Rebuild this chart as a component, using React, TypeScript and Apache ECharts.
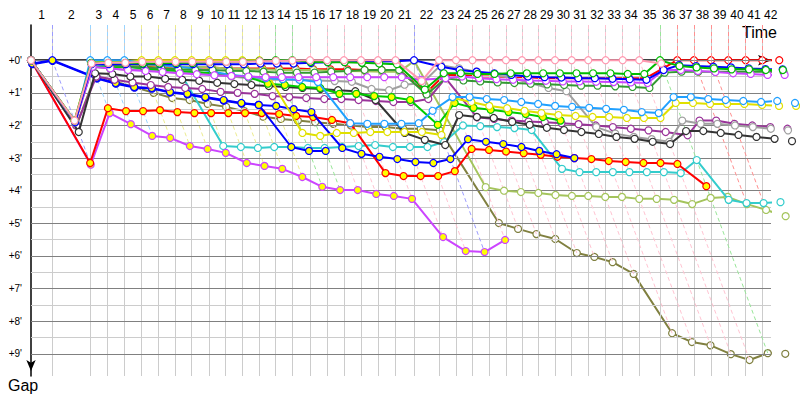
import React, { useEffect, useRef } from "react";
import * as echarts from "echarts";

// Leader's elapsed time (minutes) at the end of each lap; index 0 = start
const lapTimes = [
  0, 1.78, 4.94, 6.36, 7.78, 9.22, 10.61, 12.0, 13.39, 14.83, 16.22, 17.61, 19.03, 20.39, 21.78,
  23.25, 24.67, 26.08, 27.5, 28.92, 30.38, 31.92, 34.0, 35.42, 36.79, 38.21, 39.58, 40.92, 42.28,
  43.67, 45.06, 46.44, 47.89, 49.31, 50.69, 52.42, 53.86, 55.25, 56.67, 58.11, 59.56, 60.94, 62.36,
];
const lapLabels = [
  "1", "2", "3", "4", "5", "6", "7", "8", "9", "10", "11", "12", "13", "14", "15", "16", "17", "18", "19", "20", "21",
  "22", "23", "24", "25", "26", "27", "28", "29", "30", "31", "32", "33", "34", "35", "36", "37", "38", "39", "40", "41", "42",
];
const gapTicks = [0, 1, 2, 3, 4, 5, 6, 7, 8, 9];

// Gap to the leader (minutes) at the end of each lap, per rider
const gapsBlueLead = [0.1, 0, 0.54, 0.7, 0.82, 0.85, 0.97, 1.03, 1.13, 1.22, 1.31, 1.37, 2.66, 2.78, 2.78];
const gapsBlueB = [0.12, 0.02, 0.56, 0.72, 0.84, 0.87, 0.99, 1.05, 1.15, 1.24, 1.33, 1.37, 1.4, 1.5, 1.59, 2.69, 2.87, 2.96, 3.03, 3.12, 3.15, 3.03, 2.42, 2.5, 2.57, 2.66, 2.78, 2.88, 3.0];
const gapsLightBlue = [0, 1.9, 0, 0, 0, 0.08, 0.15, 0.2, 0.25, 0.35, 0.45, 0.5, 0.55, 0.58, 0.6, 0.67, 1.93, 1.95, 1.95, 1.95, 1.93, 1.55, 1.13, 1.13, 1.19, 1.22, 1.28, 1.34, 1.4, 1.43, 1.46, 1.49, 1.52, 1.59, 1.62, 1.13, 1.13, 1.19, 1.22, 1.25, 1.28, 1.25, 1.31];
const gapsYellow = [0, 1.85, 0.05, 0.03, 0.02, 0, 0, 0, 0, 0, 0, 0, 0, 2.23, 2.32, 2.23, 2.23, 2.2, 2.2, 2.2, 2.2, 2.29, 1.16, 1.28, 1.4, 1.47, 1.55, 1.62, 1.68, 1.71, 1.74, 1.74, 1.77, 1.77, 1.77, 1.31, 1.31, 1.34, 1.34, 1.34, 1.37, 1.4, 1.4];
const gapsPink = [0, 1.85, 0.1, 0.08, 0.08, 0.05, 0.05, 0.05, 0.05, 0.05, 0.05, 0.05, 0.03, 0.02, 0.01, 0, 0, 0, 0, 0, 0, 0.64, 0, 0, 0, 0, 0, 0, 0, 0, 0, 0, 0, 0, 0, 0.1];
const gapsRed = [0, 1.9, 0.15, 0.15, 0.15, 0.18, 0.2, 0.2, 0.22, 0.22, 0.25, 0.25, 0.25, 0.25, 0.25, 0.28, 0.28, 0.28, 0.3, 0.3, 0.3, 1.0, 0.45, 0.45, 0.5, 0.5, 0.52, 0.52, 0.55, 0.55, 0.55, 0.55, 0.55, 0.55, 0.55, 0.25, 0, 0, 0, 0, 0, 0, 0];
const gapsGreen = [0, 1.85, 0.08, 0.08, 0.08, 0.1, 0.1, 0.08, 0.08, 0.06, 0.05, 0.04, 0.02, 0, 0, 0.05, 0.06, 0.06, 0.08, 0.1, 0.12, 0.9, 0.4, 0.4, 0.42, 0.42, 0.4, 0.4, 0.4, 0.4, 0.4, 0.4, 0.4, 0.42, 0.42, 0, 0.18, 0.22, 0.25, 0.28, 0.28, 0.3, 0.3];
const gapsBlue = [0, 1.9, 0.12, 0.12, 0.12, 0.12, 0.12, 0.12, 0.12, 0.12, 0.12, 0.12, 0.1, 0.1, 0.1, 0.08, 0.06, 0.05, 0.05, 0.04, 0.03, 0, 0.2, 0.3, 0.35, 0.4, 0.45, 0.5, 0.52, 0.53, 0.55, 0.55, 0.57, 0.58, 0.6, 0.3, 0.15, 0.18, 0.2, 0.22, 0.25, 0.27, 0.28];
const gapsViolet = [0, 1.9, 0.2, 0.25, 0.3, 0.33, 0.36, 0.4, 0.43, 0.46, 0.48, 0.5, 0.52, 0.52, 0.52, 0.52, 0.52, 0.52, 0.52, 0.52, 0.52, 0.6, 0.55, 0.5, 0.55, 0.58, 0.6, 0.62, 0.63, 0.65, 0.65, 0.66, 0.67, 0.68, 0.7, 0.3, 0.3, 0.33, 0.36, 0.4, 0.42, 0.45, 0.45];
const gapsDarkGreen = [0, 1.9, 0.1, 0.15, 0.2, 0.22, 0.25, 0.28, 0.3, 0.3, 0.32, 0.33, 0.35, 0.38, 0.38, 0.38, 0.35, 0.33, 0.3, 0.3, 0.3, 1.05, 0.55, 0.62, 0.65, 0.68, 0.7, 0.72, 0.74, 0.76, 0.78, 0.78, 0.8, 0.82, 0.85, 0.38, 0.35, 0.35, 0.35, 0.35, 0.35, 0.35, 0.35];
const gapsBlack = [0, 2.2, 0.4, 0.42, 0.5, 0.5, 0.57, 0.6, 0.63, 0.69, 0.73, 0.76, 0.79, 0.82, 0.85, 0.88, 0.92, 0.95, 1.22, 2.23, 2.44, 2.6, 1.68, 1.74, 1.77, 1.89, 1.98, 2.07, 2.14, 2.2, 2.26, 2.35, 2.41, 2.5, 2.57, 2.17, 2.17, 2.23, 2.29, 2.35, 2.41, 2.48];
const gapsGray = [0, 1.9, 0.2, 0.25, 0.3, 0.3, 0.35, 0.38, 0.4, 0.45, 0.5, 0.55, 0.6, 0.6, 0.6, 0.62, 0.64, 0.66, 0.88, 0.92, 0.75, 0.7, 0.15, 0.25, 0.35, 0.45, 0.55, 0.7, 0.85, 0.95, 2.05, 2.25, 2.35, 2.42, 2.5, 1.85, 1.95, 1.95, 2.0, 2.05, 2.1, 2.15, 2.2];
const gapsPurple = [0, 2.0, 0.5, 0.6, 0.68, 0.76, 0.82, 0.85, 0.88, 0.97, 1.0, 1.03, 1.1, 1.13, 1.16, 1.19, 1.19, 1.22, 1.25, 1.28, 1.28, 1.19, 0.55, 1.75, 1.8, 1.85, 1.88, 1.9, 1.93, 1.96, 2.0, 2.05, 2.1, 2.15, 2.2, 2.3, 1.85, 1.85, 1.95, 2.0, 2.05, 2.1, 2.15];
const gapsGreenY = [0, 1.85, 0.2, 0.22, 0.2, 0.25, 0.3, 0.33, 0.36, 0.4, 0.46, 0.52, 0.72, 0.76, 0.82, 0.85, 1.03, 1.03, 1.1, 1.13, 1.22, 1.98, 1.31, 1.46, 1.52, 1.59, 1.65, 1.74, 1.85];
const gapsCyan = [0, 1.9, 0.1, 0.2, 0.2, 0.25, 0.28, 0.3, 2.63, 2.66, 2.69, 2.66, 2.66, 2.69, 2.69, 2.66, 2.63, 2.6, 2.66, 2.66, 2.66, 2.51, 2.0, 2.02, 2.05, 2.08, 2.14, 3.33, 3.43, 3.43, 3.43, 3.43, 3.43, 3.43, 3.46, 3.06, 4.28, 4.38, 4.38, 4.35];
const gapsRedY = [0, 3.15, 1.47, 1.56, 1.56, 1.53, 1.59, 1.62, 1.62, 1.62, 1.62, 1.62, 1.65, 1.71, 1.74, 1.83, 1.93, 3.46, 3.55, 3.55, 3.55, 3.4, 2.72, 2.75, 2.8, 2.85, 2.9, 2.96, 3.0, 3.03, 3.09, 3.12, 3.15, 3.15, 3.18, 3.86];
const gapsVioletY = [0, 3.2, 1.62, 1.96, 2.32, 2.38, 2.63, 2.72, 2.84, 3.15, 3.24, 3.33, 3.58, 3.88, 3.98, 3.98, 4.1, 4.16, 4.25, 5.42, 5.85, 5.88, 5.51];
const gapsOlive = [0, 2.0, 0.45, 0.66, 0.82, 1.0, 1.16, 1.22, 1.34, 1.43, 1.56, 1.73, 1.8, 1.85, 1.9, 1.95, 2.0, 2.05, 2.05, 2.1, 2.1, 2.15, 4.99, 5.17, 5.33, 5.48, 5.91, 6.03, 6.19, 6.55, 8.37, 8.64, 8.74, 9.01, 9.19, 8.98, 9.0];
const gapsYellowGreen = [0, 1.9, 0.15, 0.15, 0.15, 0.15, 0.18, 0.2, 0.2, 0.22, 0.25, 0.27, 0.28, 0.3, 0.3, 0.3, 0.32, 0.33, 0.34, 0.35, 0.35, 0.02, 3.89, 4.0, 4.04, 4.07, 4.13, 4.16, 4.16, 4.19, 4.19, 4.25, 4.25, 4.28, 4.41, 4.22, 4.19, 4.41, 4.59, 4.78];

// drawing order: first = bottom
const riders = [
  { name: "red", gaps: gapsRed },
  { name: "olive", gaps: gapsOlive },
  { name: "yellowGreen", gaps: gapsYellowGreen },
  { name: "cyan", gaps: gapsCyan },
  { name: "violetY", gaps: gapsVioletY },
  { name: "redY", gaps: gapsRedY },
  { name: "blueB", gaps: gapsBlueB },
  { name: "blueLead", gaps: gapsBlueLead },
  { name: "purple", gaps: gapsPurple },
  { name: "gray", gaps: gapsGray },
  { name: "black", gaps: gapsBlack },
  { name: "greenY", gaps: gapsGreenY },
  { name: "yellow", gaps: gapsYellow },
  { name: "lightBlue", gaps: gapsLightBlue },
  { name: "darkGreen", gaps: gapsDarkGreen },
  { name: "violet", gaps: gapsViolet },
  { name: "blue", gaps: gapsBlue },
  { name: "green", gaps: gapsGreen },
  { name: "pink", gaps: gapsPink },
];

const styles: Record<string, { color: string; fill: string; light: string }> = {
  olive: { color: "#808040", fill: "#ffffff", light: "#d0d0a0" },
  yellowGreen: { color: "#a4c45c", fill: "#ffffff", light: "#d0e4a0" },
  cyan: { color: "#33cccc", fill: "#ffffff", light: "#a0e8e8" },
  violetY: { color: "#cc44ff", fill: "#ffff00", light: "#e0a0ff" },
  redY: { color: "#ff0000", fill: "#ffff00", light: "#ff9090" },
  blueLead: { color: "#0000ff", fill: "#ffff00", light: "#9c9cff" },
  blueB: { color: "#0000ff", fill: "#ffff00", light: "#9c9cff" },
  purple: { color: "#993399", fill: "#ffffff", light: "#d0a0d0" },
  gray: { color: "#a0a0a0", fill: "#ffffff", light: "#d0d0d0" },
  black: { color: "#333333", fill: "#ffffff", light: "#a0a0a0" },
  greenY: { color: "#00cc00", fill: "#ffff00", light: "#99e699" },
  yellow: { color: "#e0e000", fill: "#ffffff", light: "#ecec90" },
  lightBlue: { color: "#20a0ff", fill: "#ffffff", light: "#99d4ff" },
  darkGreen: { color: "#339933", fill: "#ffffff", light: "#a0d0a0" },
  violet: { color: "#cc44ff", fill: "#ffffff", light: "#e0a0ff" },
  blue: { color: "#0000ff", fill: "#ffffff", light: "#9c9cff" },
  green: { color: "#00bb00", fill: "#ffffff", light: "#99e699" },
  red: { color: "#ff0000", fill: "#ffffff", light: "#ff9090" },
  pink: { color: "#ff99b0", fill: "#ffffff", light: "#ffc4d2" },
};

const Y_MIN = -1.08;
const Y_MAX = 9.68;
const X_MAX = 61.67;
const FONT = '"Liberation Sans", Arial, sans-serif';

function buildOption() {
  const labelTimes = lapTimes.slice(1).map((t, i) => (lapTimes[i] + t) / 2);

  // leader and last rider at each lap
  const lapLines: any[] = [];
  for (let k = 1; k < lapTimes.length; k++) {
    const t = lapTimes[k];
    if (t > X_MAX) continue;
    let lead = "";
    let leadGap = Infinity;
    let last = -Infinity;
    riders.forEach((r) => {
      if (k < r.gaps.length) {
        const g = r.gaps[k];
        if (g < leadGap) {
          leadGap = g;
          lead = r.name;
        }
        if (g > last) last = g;
      }
    });
    const light = styles[lead].light;
    lapLines.push([
      { coord: [t, Y_MIN], lineStyle: { color: light, width: 1, type: [4, 3] } },
      { coord: [t, 0] },
    ]);
    lapLines.push([
      { coord: [t, 0], lineStyle: { color: light, width: 1, type: [4, 3] } },
      { coord: [t + last, last] },
    ]);
  }

  const vGrid = lapTimes.slice(1).filter((t) => t <= X_MAX).map((t) => ({
    xAxis: t,
    lineStyle: { color: "#cccccc", width: 1, type: "solid" },
  }));
  const hGrid: any[] = [];
  for (let v = 0.5; v < 9; v += 1) {
    hGrid.push({ yAxis: v, lineStyle: { color: "#cccccc", width: 1, type: "solid" } });
  }
  gapTicks.forEach((v) => hGrid.push({ yAxis: v, lineStyle: { color: "#808080", width: 1, type: "solid" } }));

  const riderSeries = riders.map((r, i) => {
    const s = styles[r.name];
    return {
      type: "line",
      name: r.name,
      data: r.gaps.map((g, k) => [lapTimes[k] + g, g]),
      symbol: "circle",
      symbolSize: 7,
      showSymbol: true,
      clip: false,
      z: 3 + i,
      lineStyle: { color: s.color, width: 2 },
      itemStyle: { color: s.fill, borderColor: s.color, borderWidth: 1.2 },
      emphasis: { disabled: true },
      silent: true,
    };
  });

  return {
    animation: false,
    backgroundColor: "#ffffff",
    grid: { left: 31, top: 25, width: 740, height: 351, containLabel: false },
    xAxis: {
      type: "value",
      position: "top",
      min: 0,
      max: X_MAX,
      splitLine: { show: false },
      axisTick: { show: false },
      axisLine: {
        show: true,
        lineStyle: { color: "#000000", width: 1.5 },
        symbol: ["none", "arrow"],
        symbolSize: [8, 13],
      },
      axisLabel: {
        customValues: labelTimes,
        formatter: (v: number) => {
          const i = labelTimes.findIndex((m) => Math.abs(m - v) < 1e-6);
          return i >= 0 ? lapLabels[i] : "";
        },
        margin: 4,
        color: "#000000",
        fontFamily: FONT,
        fontSize: 12,
      },
    },
    yAxis: {
      type: "value",
      inverse: true,
      min: Y_MIN,
      max: Y_MAX,
      splitLine: { show: false },
      axisTick: { show: false },
      axisLine: {
        show: true,
        lineStyle: { color: "#000000", width: 1.5 },
        symbol: ["arrow", "none"],
        symbolSize: [7, 11],
        symbolOffset: [5, 0],
      },
      axisLabel: {
        customValues: gapTicks,
        formatter: (v: number) => "+" + v + "'",
        margin: 9,
        color: "#000000",
        fontFamily: FONT,
        fontSize: 10,
      },
    },
    graphic: [
      { type: "text", right: 23, top: 24, style: { text: "Time", font: '16px "Liberation Sans"', fill: "#000000" } },
      { type: "text", left: 8, top: 377, style: { text: "Gap", font: '16px "Liberation Sans"', fill: "#000000" } },
    ],
    series: [
      {
        type: "line",
        data: [],
        z: 1,
        silent: true,
        markLine: { silent: true, symbol: ["none", "none"], label: { show: false }, animation: false, data: [...vGrid, ...hGrid] },
      },
      {
        type: "line",
        data: [],
        z: 2,
        silent: true,
        markLine: { silent: true, symbol: ["none", "none"], label: { show: false }, animation: false, data: lapLines },
      },
      ...riderSeries,
    ],
  };
}

export default function App() {
  const ref = useRef<HTMLDivElement>(null);
  useEffect(() => {
    if (!ref.current) return;
    const chart = echarts.init(ref.current, undefined, { renderer: "svg" });
    chart.setOption(buildOption() as any);
    return () => chart.dispose();
  }, []);
  return <div ref={ref} style={{ position: "fixed", left: 0, top: 0, width: 800, height: 400, background: "#fff" }} />;
}
